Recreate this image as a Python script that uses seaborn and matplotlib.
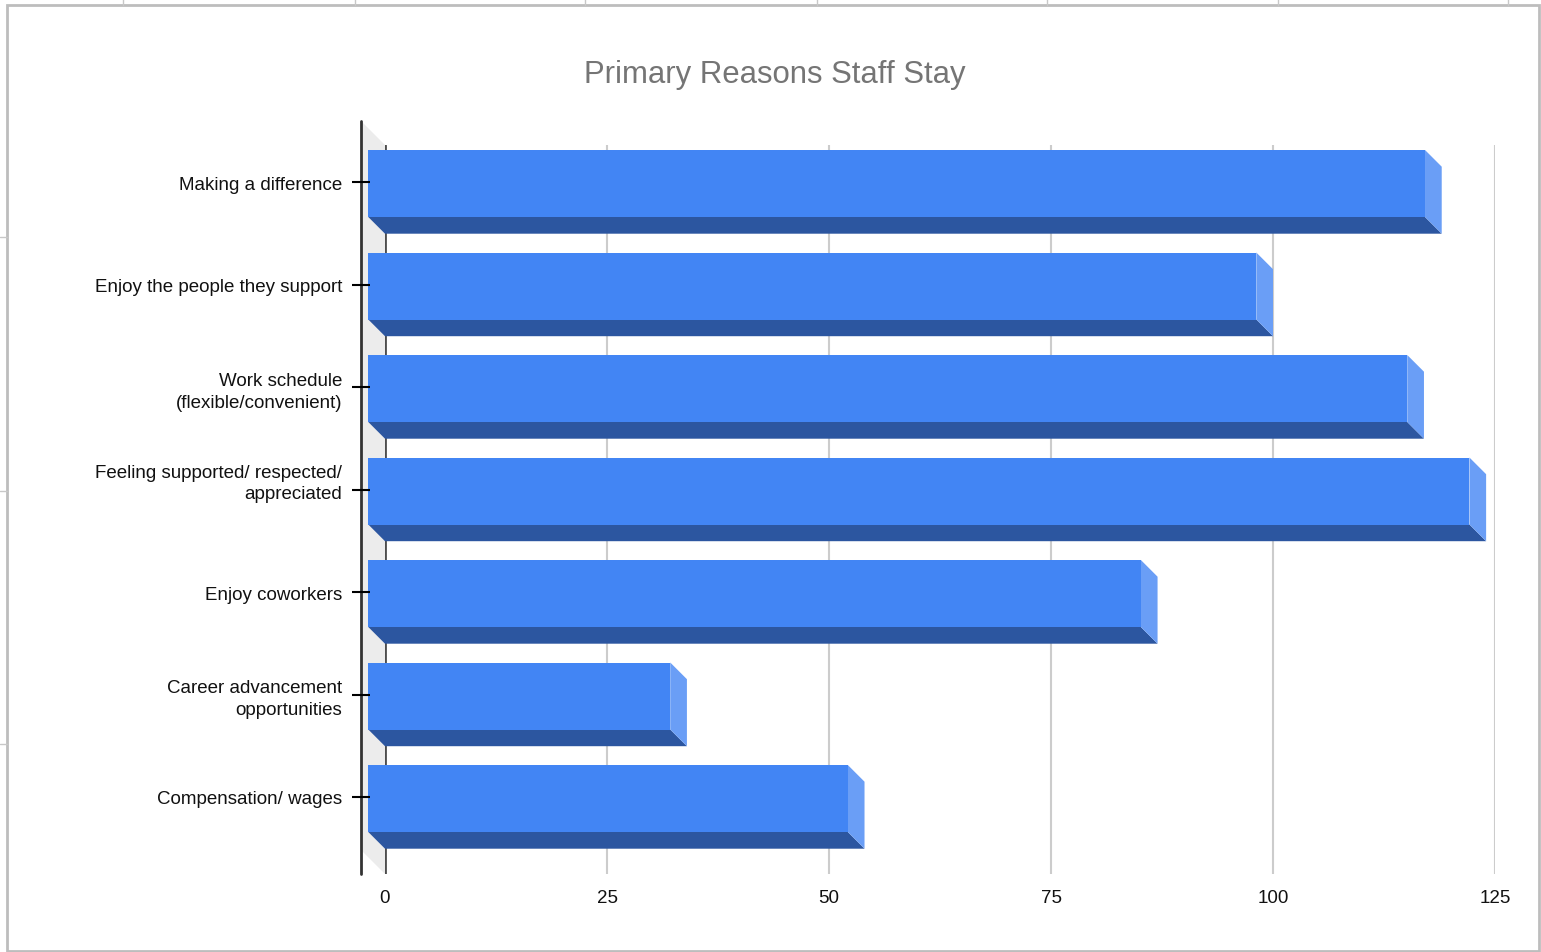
import matplotlib
matplotlib.use("Agg")
import matplotlib.pyplot as plt
import seaborn as sns
from matplotlib.patches import Polygon, Rectangle
from matplotlib.lines import Line2D

# ---- data ----
categories = [
    "Making a difference",
    "Enjoy the people they support",
    "Work schedule\n(flexible/convenient)",
    "Feeling supported/ respected/\nappreciated\n",
    "Enjoy coworkers",
    "Career advancement\nopportunities",
    "Compensation/ wages",
]
counts = [119, 100, 117, 124, 87, 34, 54]
x_ticks = [0, 25, 50, 75, 100, 125]
title = "Primary Reasons Staff Stay"

# ---- canvas ----
W, H = 1541, 953
sns.set_theme(style="white")
plt.rcParams["font.family"] = ["Liberation Sans", "DejaVu Sans"]

fig = plt.figure(figsize=(W / 100, H / 100), dpi=100)
fig.patch.set_facecolor("white")


def fx(px):
    return px / W


def fy(py):
    return 1 - py / H


# sheet gridlines around the chart frame
for gx in [123, 355, 585, 817, 1047, 1278, 1508]:
    fig.add_artist(Line2D([fx(gx), fx(gx)], [fy(0), fy(6)], color="#c8c8c8", lw=1))
for gy in [238, 492, 745]:
    fig.add_artist(Line2D([fx(0), fx(7)], [fy(gy), fy(gy)], color="#c8c8c8", lw=1))
fig.add_artist(Rectangle((fx(7), fy(952)), fx(1539) - fx(7), (952 - 6) / H,
                         fill=False, edgecolor="#bdbdbd", lw=2))

# ---- plot area (back plane) ----
left_px, right_px = 385, 1495
top_px, bot_px = 146, 875
cat0_px, pitch_px = 183.0, 102.5
px_per_unit = (right_px - left_px) / 125

ax = fig.add_axes([fx(left_px), fy(bot_px), (right_px - left_px) / W, (bot_px - top_px) / H])
ax.set_facecolor("none")

y_top = (top_px - cat0_px) / pitch_px
y_bot = (bot_px - cat0_px) / pitch_px

# 3D depth of bars and of the side wall, in data units
DX, DY = 16.7 / px_per_unit, 16.7 / pitch_px
WX, WY = 24 / px_per_unit, 24 / pitch_px
BAR_H = 67 / pitch_px
BAR_SHIFT = 1.5 / pitch_px

FRONT = "#4285F4"
BOTTOM = "#2C56A0"
SIDE = "#6A9EF6"

sns.barplot(x=counts, y=categories, orient="h", color=FRONT, saturation=1,
            width=BAR_H, ax=ax, zorder=4, linewidth=0)

ax.set_xlim(0, 125)
ax.set_ylim(y_bot, y_top)
ax.set_xlabel("")
ax.set_ylabel("")

# side wall and front axis line
ax.add_patch(Polygon([(-WX, y_top - WY), (0, y_top), (0, y_bot), (-WX, y_bot - WY)],
                     closed=True, facecolor="#ececec", edgecolor="none",
                     clip_on=False, zorder=0))
ax.add_line(Line2D([-WX, -WX], [y_top - WY, y_bot], color="#333333", lw=2,
                   clip_on=False, zorder=6))

# gridlines
ax.set_xticks(x_ticks)
ax.grid(axis="x", color="#cccccc", lw=1.5, zorder=1)
ax.grid(axis="y", visible=False)
ax.set_axisbelow(True)
ax.axvline(0, color="#4d4d4d", lw=2, zorder=1.5)

# extrude each bar: bottom face and right end face
for p in list(ax.patches):
    if isinstance(p, Polygon):
        continue
    v = p.get_width()
    p.set_y(p.get_y() + BAR_SHIFT)
    y0 = p.get_y()
    y1 = y0 + p.get_height()
    p.set_x(p.get_x() - DX)
    p.set_clip_on(False)
    ax.add_patch(Polygon([(-DX, y1), (v - DX, y1), (v, y1 + DY), (0, y1 + DY)],
                         closed=True, facecolor=BOTTOM, edgecolor="none",
                         clip_on=False, zorder=3))
    ax.add_patch(Polygon([(v - DX, y0), (v, y0 + DY), (v, y1 + DY), (v - DX, y1)],
                         closed=True, facecolor=SIDE, edgecolor="none",
                         clip_on=False, zorder=3))

# category tick marks crossing the axis line
tick_x0 = (352 - left_px) / px_per_unit
tick_x1 = (370 - left_px) / px_per_unit
ax.hlines(range(len(categories)), tick_x0, tick_x1, color="black", lw=1.5,
          clip_on=False, zorder=7)

for s in ax.spines.values():
    s.set_visible(False)

ax.tick_params(axis="y", length=0, pad=31, labelsize=13.5, labelcolor="#111111")
ax.tick_params(axis="x", length=0, pad=11, labelsize=13.5, labelcolor="#111111")
for lbl in ax.get_yticklabels():
    lbl.set_multialignment("right")
    lbl.set_linespacing(1.35)

fig.text(fx(774.5), fy(83), title, ha="center", va="baseline",
         fontsize=22.4, color="#757575")

fig.savefig("out.png", dpi=100, facecolor="white")
